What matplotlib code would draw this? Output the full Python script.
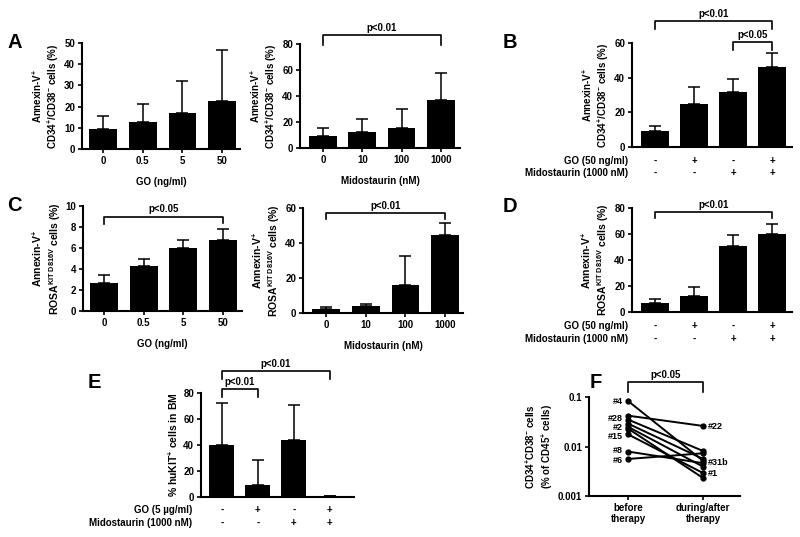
import matplotlib
matplotlib.use('Agg')
import matplotlib.pyplot as plt
from matplotlib.ticker import NullLocator
from matplotlib.transforms import blended_transform_factory as blend

plt.rcParams['font.family'] = ['Liberation Sans', 'DejaVu Sans']
plt.rcParams['font.weight'] = 'bold'
plt.rcParams['axes.labelweight'] = 'bold'
plt.rcParams['mathtext.fontset'] = 'custom'
plt.rcParams['mathtext.rm'] = 'Liberation Sans:bold'
plt.rcParams['mathtext.it'] = 'Liberation Sans:bold'
plt.rcParams['mathtext.bf'] = 'Liberation Sans:bold'
plt.rcParams['mathtext.sf'] = 'Liberation Sans:bold'
plt.rcParams['mathtext.default'] = 'rm'

# data
go_doses = ['0', '0.5', '5', '50']
mido_doses = ['0', '10', '100', '1000']

a_go_mean = [9.4, 12.9, 17.0, 22.7]
a_go_err = [15.8, 21.3, 32.3, 46.8]
a_mido_mean = [9.0, 12.0, 15.3, 37.3]
a_mido_err = [15.7, 22.5, 29.8, 57.8]

b_mean = [9.4, 24.9, 31.9, 46.4]
b_err = [12.3, 34.5, 39.0, 54.5]

c_go_mean = [2.7, 4.3, 6.0, 6.75]
c_go_err = [3.45, 4.95, 6.75, 7.85]
c_mido_mean = [2.5, 4.0, 16.0, 44.3]
c_mido_err = [3.3, 5.4, 32.6, 51.4]

d_mean = [6.8, 12.0, 50.5, 60.0]
d_err = [9.8, 19.5, 59.0, 68.0]

e_mean = [40.0, 9.5, 44.0, 0.7]
e_err = [72.5, 28.5, 70.5, 1.1]

go_row = ['-', '+', '-', '+']
mido_row = ['-', '-', '+', '+']

f_before = [0.083, 0.042, 0.035, 0.029, 0.025, 0.023, 0.0176, 0.0079, 0.0056]
f_after = [0.0051, 0.026, 0.0081, 0.0056, 0.0039, 0.0023, 0.0029, 0.0046, 0.0073]
f_left_labels = ['#4', '#28', '#2', '#15', '#8', '#6']
f_left_at = [0.083, 0.037, 0.0245, 0.016, 0.0082, 0.0053]
f_right_labels = ['#22', '#31b', '#1']
f_right_at = [0.025, 0.00465, 0.0028]

W, H = 800, 537
FS = 7
fig = plt.figure(figsize=(8, 5.37), dpi=100)


def axes_px(l, t, r, b):
    ax = fig.add_axes([l / W, 1 - b / H, (r - l) / W, (b - t) / H])
    ax.spines[['top', 'right']].set_visible(False)
    ax.spines[['left', 'bottom']].set_linewidth(1.5)
    ax.tick_params(width=1.2, length=3, labelsize=FS, pad=2)
    return ax


def bars(ax, vals, errs):
    x = list(range(len(vals)))
    ax.bar(x, vals, width=0.7, color='black', zorder=2)
    up = [e - v for v, e in zip(vals, errs)]
    ax.errorbar(x, vals, yerr=[[0] * len(vals), up], fmt='none', ecolor='black',
                elinewidth=1.1, capsize=4.5, capthick=1.1, zorder=1)


def bracket(ax, x0, x1, y, y0, y1, text):
    ax.plot([x0, x0, x1, x1], [y0, y, y, y1], color='black', lw=1.2, clip_on=False)
    ax.annotate(text, ((x0 + x1) / 2, y), xytext=(0, 1.5), textcoords='offset points',
                ha='center', va='bottom', fontsize=FS, annotation_clip=False)


def treat_rows(ax, labels, ys, label_x):
    tr = blend(ax.transData, fig.transFigure)
    ax.set_xticks([])
    for row, lab, y in zip([go_row, mido_row], labels, ys):
        fig.text(label_x / W, 1 - y / H, lab, ha='right', va='center', fontsize=FS)
        for i, s in enumerate(row):
            ax.text(i, 1 - y / H, s, transform=tr, ha='center', va='center', fontsize=FS)


def dose_axis(ax, labels, xlabel):
    ax.set_xticks(range(len(labels)))
    ax.set_xticklabels(labels)
    ax.set_xlabel(xlabel, fontsize=FS, labelpad=8)


lab_cd34 = 'Annexin-V$^{+}$\nCD34$^{+}$/CD38$^{-}$ cells (%)'
lab_rosa = 'Annexin-V$^{+}$\nROSA$^{KIT\\ D816V}$ cells (%)'
treat_labels = ['GO (50 ng/ml)', 'Midostaurin (1000 nM)']

# A left
ax = axes_px(82, 43, 240, 149)
bars(ax, a_go_mean, a_go_err)
ax.set_xlim(-0.53, 3.45)
ax.set_ylim(0, 50)
ax.set_yticks(range(0, 51, 10))
dose_axis(ax, go_doses, 'GO (ng/ml)')
ax.set_ylabel(lab_cd34, fontsize=FS, labelpad=2)

# A right
ax = axes_px(300, 44, 460, 148)
bars(ax, a_mido_mean, a_mido_err)
ax.set_xlim(-0.58, 3.48)
ax.set_ylim(0, 80)
ax.set_yticks(range(0, 81, 20))
dose_axis(ax, mido_doses, 'Midostaurin (nM)')
ax.set_ylabel(lab_cd34, fontsize=FS, labelpad=2)
bracket(ax, 0, 3, 87, 79, 79, 'p<0.01')

# B
ax = axes_px(632, 43, 792, 147)
bars(ax, b_mean, b_err)
ax.set_xlim(-0.59, 3.51)
ax.set_ylim(0, 60)
ax.set_yticks(range(0, 61, 20))
ax.set_ylabel(lab_cd34, fontsize=FS, labelpad=2)
treat_rows(ax, treat_labels, [161, 173], 628)
bracket(ax, 0, 3, 72.7, 68, 68, 'p<0.01')
bracket(ax, 2, 3, 60.8, 56, 56, 'p<0.05')

# C left
ax = axes_px(83, 206, 242, 311)
bars(ax, c_go_mean, c_go_err)
ax.set_xlim(-0.53, 3.48)
ax.set_ylim(0, 10)
ax.set_yticks(range(0, 11, 2))
dose_axis(ax, go_doses, 'GO (ng/ml)')
ax.set_ylabel(lab_rosa, fontsize=7.5, labelpad=2)
bracket(ax, 0, 3, 9.0, 8.3, 8.4, 'p<0.05')

# C right
ax = axes_px(303, 208, 463, 313)
bars(ax, c_mido_mean, c_mido_err)
ax.set_xlim(-0.58, 3.45)
ax.set_ylim(0, 60)
ax.set_yticks(range(0, 61, 20))
dose_axis(ax, mido_doses, 'Midostaurin (nM)')
ax.set_ylabel(lab_rosa, fontsize=7.5, labelpad=2)
bracket(ax, 0, 3, 57.1, 53.7, 53.7, 'p<0.01')

# D
ax = axes_px(632, 208, 792, 312)
bars(ax, d_mean, d_err)
ax.set_xlim(-0.59, 3.51)
ax.set_ylim(0, 80)
ax.set_yticks(range(0, 81, 20))
ax.set_ylabel(lab_rosa, fontsize=7.5, labelpad=2)
treat_rows(ax, treat_labels, [326, 339], 628)
bracket(ax, 0, 3, 77, 72, 72, 'p<0.01')

# E
ax = axes_px(201, 393, 354, 497)
bars(ax, e_mean, e_err)
ax.set_xlim(-0.58, 3.67)
ax.set_ylim(0, 80)
ax.set_yticks(range(0, 81, 20))
ax.set_ylabel('% huKIT$^{+}$ cells in BM', fontsize=7.5, labelpad=2)
treat_rows(ax, ['GO (5 \u00b5g/ml)', 'Midostaurin (1000 nM)'], [510, 523], 192)
bracket(ax, 0, 3, 97, 91, 91, 'p<0.01')
bracket(ax, 0, 1, 83, 77, 77, 'p<0.01')

# F
ax = axes_px(589, 397, 740, 496)
for b, a in zip(f_before, f_after):
    ax.plot([0, 1], [b, a], color='black', lw=1.4, marker='o', ms=3.5)
ax.set_yscale('log')
ax.set_ylim(0.001, 0.1)
ax.set_yticks([0.001, 0.01, 0.1])
ax.set_yticklabels(['0.001', '0.01', '0.1'])
ax.yaxis.set_minor_locator(NullLocator())
ax.set_xlim(-0.52, 1.49)
ax.set_xticks([0, 1])
ax.set_xticklabels(['before\ntherapy', 'during/after\ntherapy'], linespacing=1.1)
ax.set_ylabel('CD34$^{+}$CD38$^{-}$ cells\n(% of CD45$^{+}$ cells)', fontsize=FS, labelpad=2)
for lab, y in zip(f_left_labels, f_left_at):
    ax.annotate(lab, (0, y), xytext=(-4, 0), textcoords='offset points',
                ha='right', va='center', fontsize=6.5)
for lab, y in zip(f_right_labels, f_right_at):
    ax.annotate(lab, (1, y), xytext=(3, 0), textcoords='offset points',
                ha='left', va='center', fontsize=6.5)
bracket(ax, 0, 1, 0.2, 0.126, 0.126, 'p<0.05')

# panel letters
for letter, x, y in [('A', 7, 43), ('B', 503, 43), ('C', 7, 206),
                     ('D', 503, 207), ('E', 88, 383), ('F', 590, 383)]:
    fig.text(x / W, 1 - y / H, letter, fontsize=14.5, ha='left', va='center')

fig.savefig('out.png', dpi=100)
